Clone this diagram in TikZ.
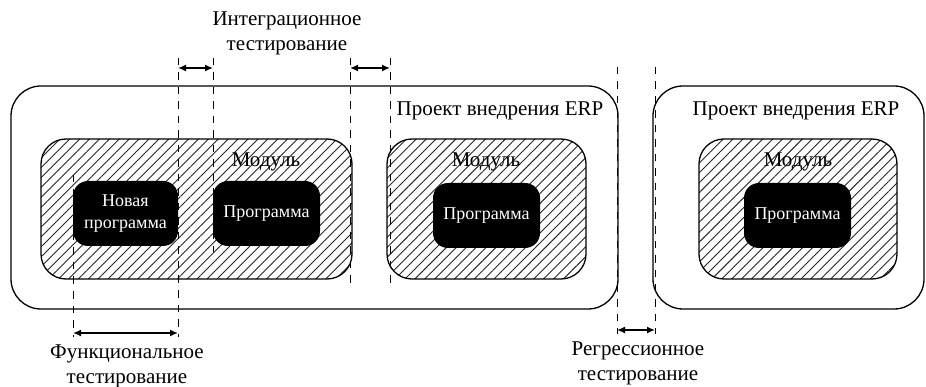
\documentclass[tikz,border=0pt]{standalone}
\usepackage{fontspec}
\setmainfont{Liberation Serif}
\usetikzlibrary{patterns.meta,arrows.meta}
\begin{document}
\begin{tikzpicture}[x=1pt,y=-1pt,
  proj/.style={draw,line width=1.3pt,rounded corners=30pt,inner sep=0pt},
  modbox/.style={draw,line width=1.3pt,rounded corners=25pt,inner sep=0pt,
    pattern={Lines[angle=45,distance=7pt,line width=0.9pt]},pattern color=black!85},
  prog/.style={fill=black,rounded corners=15pt,inner sep=0pt,text=white,
    font=\fontsize{18}{22}\selectfont,align=center},
  lbl/.style={font=\fontsize{21}{25}\selectfont,align=center,inner sep=0pt},
  dashline/.style={dashed,dash pattern=on 7.5pt off 7pt,line width=0.8pt},
  dimarrow/.style={line width=1.5pt,{Latex[length=8pt,width=7pt]}-{Latex[length=8pt,width=7pt]}}]
\useasboundingbox (0,0) rectangle (926,387);
% project boxes
\node (p1) [proj,minimum width=607pt,minimum height=223pt] at (314.5,197.5) {};
\node (p2) [proj,minimum width=271pt,minimum height=223pt] at (788.5,197.5) {};
\node (p1l) [lbl] at (500,111) {Проект внедрения ERP};
\node (p2l) [lbl] at (796,111) {Проект внедрения ERP};
% modules
\node (m1) [modbox,minimum width=311pt,minimum height=140pt] at (196.5,209) {};
\node (m2) [modbox,minimum width=199pt,minimum height=140pt] at (486.5,209) {};
\node (m3) [modbox,minimum width=198pt,minimum height=140pt] at (798,209) {};
\node (m1l) [lbl] at (266,162) {Модуль};
\node (m2l) [lbl] at (486,162) {Модуль};
\node (m3l) [lbl] at (798,162) {Модуль};
% programs
\node (np) [prog,minimum width=105pt,minimum height=65pt] at (125.5,213.5) {Новая\\программа};
\node (pr1) [prog,minimum width=107pt,minimum height=65pt] at (266.5,213.5) {Программа};
\node (pr2) [prog,minimum width=107pt,minimum height=65pt] at (486.5,215.5) {Программа};
\node (pr3) [prog,minimum width=107pt,minimum height=65pt] at (797.5,215.5) {Программа};
% dashed guide lines
\coordinate (a1t) at (178,58);  \coordinate (a1b) at (178,337);
\coordinate (a2t) at (213,58);  \coordinate (a2b) at (213,252);
\coordinate (a3t) at (350,58);  \coordinate (a3b) at (350,288);
\coordinate (a4t) at (390,58);  \coordinate (a4b) at (390,288);
\coordinate (f1t) at (73,175);  \coordinate (f1b) at (73,337);
\coordinate (r1t) at (617,67);  \coordinate (r1b) at (617,334);
\coordinate (r2t) at (655,67);  \coordinate (r2b) at (655,334);
\foreach \c in {a1,a2,a3,a4,f1,r1,r2}{\draw[dashline] (\c t) -- (\c b);}
% dimension arrows
\coordinate (ia1) at (178,68); \coordinate (ia2) at (213,68);
\coordinate (ib1) at (350,68); \coordinate (ib2) at (390,68);
\coordinate (fa1) at (73,333); \coordinate (fa2) at (178,333);
\coordinate (ra1) at (617,330); \coordinate (ra2) at (655,330);
\draw[dimarrow] (ia1) -- (ia2);
\draw[dimarrow] (ib1) -- (ib2);
\draw[dimarrow] (fa1) -- (fa2);
\draw[dimarrow] (ra1) -- (ra2);
% labels
\node (il) [lbl] at (287,33.5) {Интеграционное\\тестирование};
\node (fl) [lbl] at (127,366) {Функциональное\\тестирование};
\node (rl) [lbl] at (638,363.5) {Регрессионное\\тестирование};
\end{tikzpicture}
\end{document}
